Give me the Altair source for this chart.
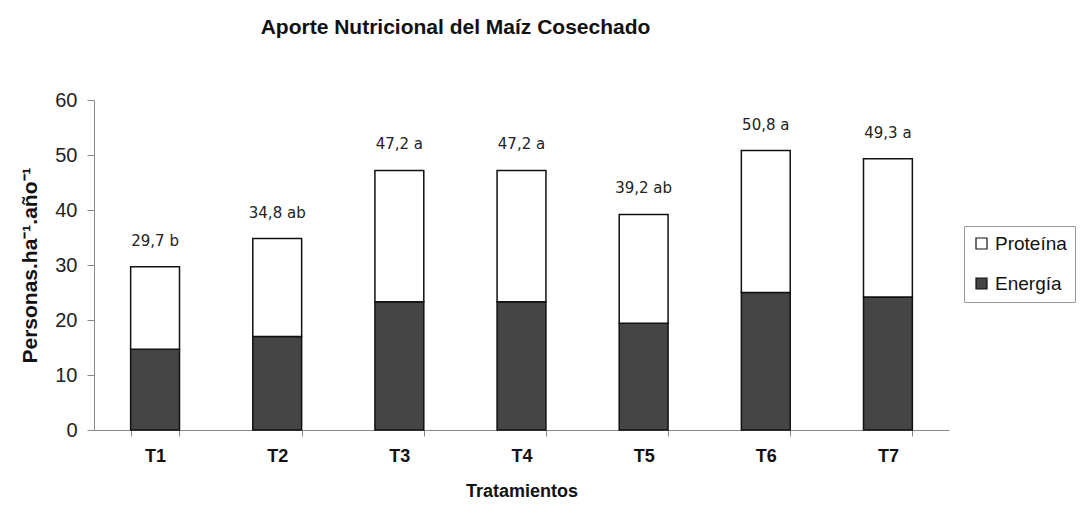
import altair as alt
import pandas as pd

tratamientos = ["T1", "T2", "T3", "T4", "T5", "T6", "T7"]
energia = [14.7, 17.0, 23.3, 23.3, 19.4, 25.0, 24.2]
proteina = [15.0, 17.8, 23.9, 23.9, 19.8, 25.8, 25.1]
etiquetas = ["29,7 b", "34,8 ab", "47,2 a", "47,2 a", "39,2 ab", "50,8 a", "49,3 a"]
series = ["Proteína", "Energía"]

rows = []
for i, t in enumerate(tratamientos):
    rows.append({"T": t, "serie": "Energía", "v": energia[i], "orden": 0})
    rows.append({"T": t, "serie": "Proteína", "v": proteina[i], "orden": 1})
df = pd.DataFrame(rows)

lab = pd.DataFrame({"T": tratamientos, "e": energia, "p": proteina, "lab": etiquetas})

FONT = "Liberation Sans, Arial, sans-serif"

xscale = alt.Scale(domain=tratamientos, paddingInner=0.6, paddingOuter=0.3)
yscale = alt.Scale(domain=[0, 60], nice=False)

bars = alt.Chart(df).mark_bar(stroke="#111111", strokeWidth=1.5).encode(
    x=alt.X("T:N", scale=xscale, sort=tratamientos,
            axis=alt.Axis(title="Tratamientos", labelAngle=0, tickBand="extent",
                          labelFont=FONT, labelFontSize=18, labelFontWeight="bold",
                          labelColor="#111", labelPadding=11,
                          titleFont=FONT, titleFontSize=18, titleFontWeight="bold",
                          titleColor="#111", titlePadding=17,
                          domainColor="#888", tickColor="#888", tickSize=6)),
    y=alt.Y("v:Q", stack="zero", scale=yscale,
            axis=alt.Axis(title="Personas.ha⁻¹.año⁻¹", values=[0, 10, 20, 30, 40, 50, 60],
                          grid=False, labelFont=FONT, labelFontSize=20, labelColor="#222",
                          labelPadding=10, domainColor="#888", tickColor="#888", tickSize=7,
                          titleFont=FONT, titleFontSize=21, titleFontWeight="bold",
                          titleColor="#111", titleX=-64, titleY=165, titleAngle=-90,
                          titleAlign="center", titleBaseline="middle")),
    color=alt.Color("serie:N",
                    scale=alt.Scale(domain=series, range=["#ffffff", "#454545"]),
                    legend=alt.Legend(title=None, orient="none", legendX=870, legendY=126,
                                      symbolType="square", symbolSize=121,
                                      symbolStrokeColor="#111", symbolStrokeWidth=1.2,
                                      labelFont=FONT, labelFontSize=19, labelColor="#111",
                                      rowPadding=20, padding=8, strokeColor="#999",
                                      labelOffset=4)),
    order=alt.Order("orden:Q"),
)

texts = alt.Chart(lab).transform_calculate(total="datum.e + datum.p").mark_text(
    font="DejaVu Sans", fontSize=15, color="#222", baseline="alphabetic", dy=-21
).encode(
    x=alt.X("T:N", scale=xscale, sort=tratamientos),
    y=alt.Y("total:Q", scale=yscale),
    text="lab:N",
)

chart = alt.layer(bars, texts).properties(
    width=855, height=330,
    title=alt.TitleParams("Aporte Nutricional del Maíz Cosechado",
                          font=FONT, fontSize=21, fontWeight="bold", color="#111",
                          anchor="middle", dx=-66, offset=52),
    autosize=alt.AutoSizeParams(type="none"),
    padding={"left": 86, "top": 92, "right": 128, "bottom": 70},
).configure_view(stroke=None)

chart.save("out.html", embed_options={"renderer": "svg", "actions": False})
